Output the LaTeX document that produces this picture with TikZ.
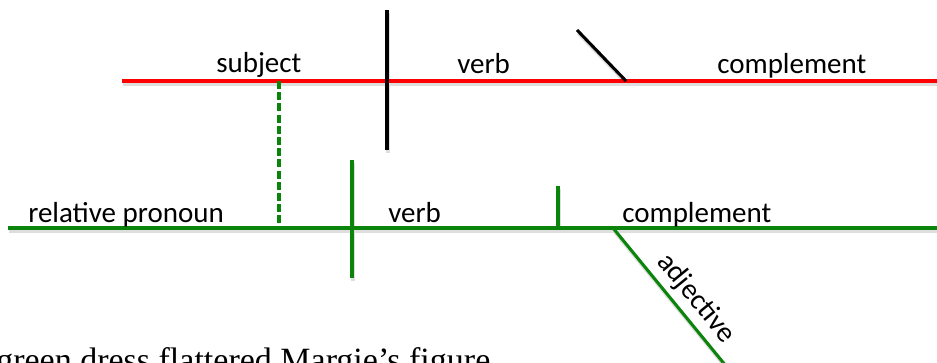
\documentclass[tikz,border=0pt]{standalone}
\usepackage{fontspec}
\setmainfont{Carlito}
\newfontfamily\sentfont{Liberation Serif}
\usetikzlibrary{positioning,calc}
\definecolor{baseline}{HTML}{FF0000}
\definecolor{clause}{HTML}{0B840B}
\definecolor{divider}{HTML}{000000}

\begin{document}
\begin{tikzpicture}[
  x=0.75pt, y=-0.75pt,
  word/.style={font=\fontsize{21.75}{26}\selectfont, inner sep=0pt, anchor=base west},
  sentence/.style={font=\sentfont\fontsize{25.5}{30}\selectfont, inner sep=0pt, anchor=base west},
  shade/.style={draw=black!13, line width=3pt, transform canvas={shift={(1pt,-2.2pt)}}},
  mainline/.style={draw=baseline, line width=2.3pt},
  subline/.style={draw=clause, line width=2.3pt},
  split/.style={draw=divider, line width=2.3pt},
  link/.style={draw=clause, line width=2.3pt, dash pattern=on 6pt off 2.4pt},
]
\useasboundingbox (0,0) rectangle (937,363);
\coordinate (mainL) at (122,81);
\coordinate (mainR) at (940,81);
\coordinate (subL) at (8,228);
\coordinate (subR) at (940,228);
\coordinate (cutT) at (387,10);
\coordinate (cutB) at (387,150);
\coordinate (slashT) at (577,30);
\coordinate (slashB) at (626,81);
\coordinate (dashT) at (279,81);
\coordinate (dashB) at (279,228);
\coordinate (vcutT) at (352,160);
\coordinate (vcutB) at (352,278);
\coordinate (objT) at (558,186);
\coordinate (objB) at (558,228);
\coordinate (adjT) at (613,228);
\coordinate (adjB) at (726,366);
\foreach \a/\b in {mainL/mainR, subL/subR, cutT/cutB, slashT/slashB, vcutT/vcutB, objT/objB, adjT/adjB}
  \draw[shade] (\a) -- (\b);
\draw[mainline] (mainL) -- (mainR);
\draw[subline] (subL) -- (subR);
\draw[split] (cutT) -- (cutB);
\draw[split] (slashT) -- (slashB);
\draw[link] (dashT) -- (dashB);
\draw[subline] (vcutT) -- (vcutB);
\draw[subline] (objT) -- (objB);
\draw[subline] (adjT) -- node[word, anchor=south, sloped, above=4pt, pos=0.6] (adj) {adjective} (adjB);
\node[word] (subj) at (216,73) {subject};
\node[word] (verb) at (457,74) {verb};
\node[word] (comp) at (717,74) {complement};
\node[word] (rel) at (28,223) {relative pronoun};
\node[word] (rverb) at (388,223) {verb};
\node[word] (rcomp) at (622,222) {complement};
\node[sentence] (sent) at (-4,371) {green dress flattered Margie’s figure};
\end{tikzpicture}
\end{document}
